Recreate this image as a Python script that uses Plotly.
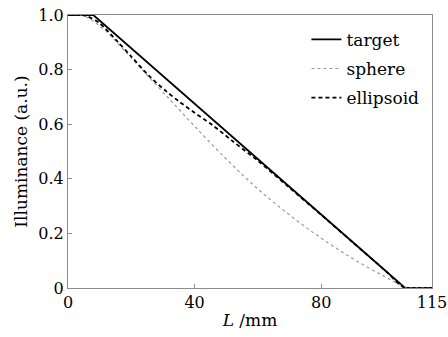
import plotly.graph_objects as go

x_target = [0, 8, 106.5, 115]
y_target = [1, 1, 0, 0]

x_sphere = [0, 4, 7, 10, 13, 17, 21, 25, 29, 33, 40, 50, 60, 70, 80, 90, 100, 107, 110, 115]
y_sphere = [1, 1, 0.985, 0.96, 0.93, 0.88, 0.83, 0.78, 0.73, 0.68, 0.5925, 0.4725, 0.3625, 0.2675, 0.1825, 0.1075, 0.0425, 0.002, 0, 0]

x_ellip = [0, 4, 6.3, 10, 15.7, 20, 25.6, 31, 35, 40, 45.5, 52, 60, 70, 80, 90, 100, 106.5, 115]
y_ellip = [1, 1, 0.994, 0.97, 0.902, 0.848, 0.777, 0.721, 0.684, 0.642, 0.598, 0.538, 0.466, 0.367, 0.268, 0.167, 0.066, 0, 0]

x_ticks = [0, 40, 80, 115]
y_ticks = [0, 0.2, 0.4, 0.6, 0.8, 1.0]
y_ticklabels = ["0", "0.2", "0.4", "0.6", "0.8", "1.0"]

FONT = "DejaVu Serif, serif"
FS = 17
TFS = 16

fig = go.Figure()
fig.add_trace(go.Scatter(x=x_target, y=y_target, mode="lines", name="target",
                         legendgroup="a",
                         line=dict(color="black", width=1.8)))
fig.add_trace(go.Scatter(x=x_sphere, y=y_sphere, mode="lines", name="sphere",
                         legendgroup="b", line_shape="spline",
                         line=dict(color="#9a9a9a", width=1.2, dash="dot")))
fig.add_trace(go.Scatter(x=x_ellip, y=y_ellip, mode="lines", name="ellipsoid",
                         legendgroup="c", line_shape="spline",
                         line=dict(color="black", width=1.8, dash="4px,3px", smoothing=0.8)))

axis_common = dict(showgrid=False, zeroline=False, showline=True, mirror=True,
                   linecolor="#8c8c8c", linewidth=1, ticks="inside", ticklen=4,
                   tickcolor="#8c8c8c", automargin=False,
                   tickfont=dict(family=FONT, size=TFS, color="black"))

fig.update_layout(
    width=448, height=337,
    margin=dict(l=68, r=16, t=15, b=49),
    paper_bgcolor="white", plot_bgcolor="white",
    font=dict(family=FONT, size=FS, color="black"),
    showlegend=True,
    legend=dict(x=0.655, y=0.975, xanchor="left", yanchor="top",
                bgcolor="rgba(0,0,0,0)", tracegroupgap=4,
                font=dict(family=FONT, size=FS, color="black")),
    xaxis=dict(range=[0, 115], tickvals=x_ticks, ticktext=[str(v) for v in x_ticks],
               ticklabeloverflow="allow",
               title=dict(text="<i>L</i> /mm", standoff=2, font=dict(family=FONT, size=FS)),
               **axis_common),
    yaxis=dict(range=[0, 1], tickvals=y_ticks, ticktext=y_ticklabels,
               title=dict(text="Illuminance (a.u.)", standoff=6, font=dict(family=FONT, size=FS)),
               **axis_common),
)

fig.write_html("out.html")
